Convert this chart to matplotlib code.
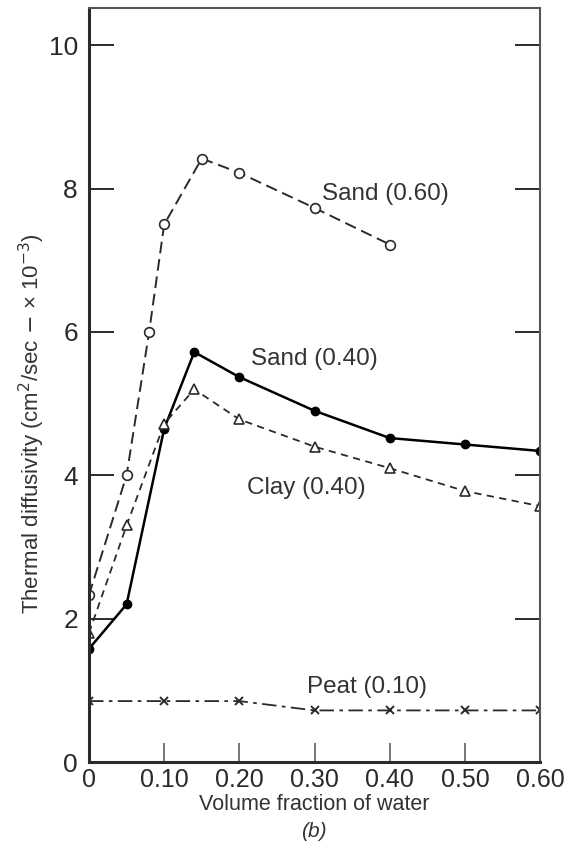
import matplotlib.pyplot as plt

# values
sand60_x = [0, 0.05, 0.08, 0.10, 0.15, 0.20, 0.30, 0.40]
sand60_y = [2.33, 4.0, 6.0, 7.5, 8.42, 8.22, 7.73, 7.22]

sand40_x = [0, 0.05, 0.10, 0.14, 0.20, 0.30, 0.40, 0.50, 0.60]
sand40_y = [1.58, 2.2, 4.65, 5.72, 5.37, 4.9, 4.52, 4.43, 4.34]

clay40_x = [0, 0.05, 0.10, 0.14, 0.20, 0.30, 0.40, 0.50, 0.60]
clay40_y = [1.8, 3.3, 4.72, 5.2, 4.78, 4.4, 4.1, 3.78, 3.57]

peat10_x = [0, 0.10, 0.20, 0.30, 0.40, 0.50, 0.60]
peat10_y = [0.85, 0.85, 0.85, 0.72, 0.72, 0.72, 0.72]

x_ticks = [0, 0.10, 0.20, 0.30, 0.40, 0.50, 0.60]
x_labels = ['0', '0.10', '0.20', '0.30', '0.40', '0.50', '0.60']
y_ticks = [0, 2, 4, 6, 8, 10]

ink = '#2a2a2a'
plt.rcParams['font.family'] = ['Liberation Sans', 'DejaVu Sans']

fig = plt.figure(figsize=(5.65, 8.59), dpi=100)
ax = fig.add_axes([0.1575, 0.1129, 0.7985, 0.8778])

ax.plot(sand60_x, sand60_y, color=ink, lw=1.4, ls=(0, (6, 3)),
        marker='o', ms=7, mfc='white', mec=ink, mew=1.2)
ax.plot(sand40_x, sand40_y, color='black', lw=1.8, ls='-',
        marker='o', ms=6, mfc='black', mec='black')
ax.plot(clay40_x, clay40_y, color=ink, lw=1.3, ls=(0, (4, 3)),
        marker='^', ms=7, mfc='white', mec=ink, mew=1.2)
ax.plot(peat10_x, peat10_y, color=ink, lw=1.3, ls=(0, (8, 3, 2, 3)),
        marker='x', ms=6, mec=ink, mew=1.4)

fs = 17.5
ax.text(0.31, 7.93, 'Sand (0.60)', fontsize=fs, color='#333', va='center')
ax.text(0.215, 5.62, 'Sand (0.40)', fontsize=fs, color='#333', va='center')
ax.text(0.21, 3.82, 'Clay (0.40)', fontsize=fs, color='#333', va='center')
ax.text(0.29, 1.05, 'Peat (0.10)', fontsize=fs, color='#333', va='center')

ax.set_xlim(0, 0.60)
ax.set_ylim(0, 10.52)
ax.set_xticks(x_ticks)
ax.set_xticklabels(x_labels)
ax.set_yticks(y_ticks)
ax.tick_params(axis='y', direction='in', length=18, width=1.4, colors=ink,
               labelsize=19, right=True, pad=8)
ax.tick_params(axis='x', direction='in', length=14, width=1.4, colors='#777',
               labelcolor=ink, labelsize=18, pad=4)
for side in ['left', 'bottom']:
    ax.spines[side].set_linewidth(2.2)
    ax.spines[side].set_color(ink)
for side in ['right', 'top']:
    ax.spines[side].set_linewidth(1.5)
    ax.spines[side].set_color('#555')

ax.set_ylabel('Thermal diffusivity (cm$^2$/sec $-$ × 10$^{-3}$)',
              fontsize=16, color='#333')
ax.yaxis.set_label_coords(-0.093, 0.449)
ax.set_xlabel('Volume fraction of water', fontsize=15.5, color='#333', labelpad=2)
fig.text(0.555, 0.026, '(b)', fontsize=15, style='italic', color='#333', ha='center')

fig.savefig('out.png', dpi=100)
